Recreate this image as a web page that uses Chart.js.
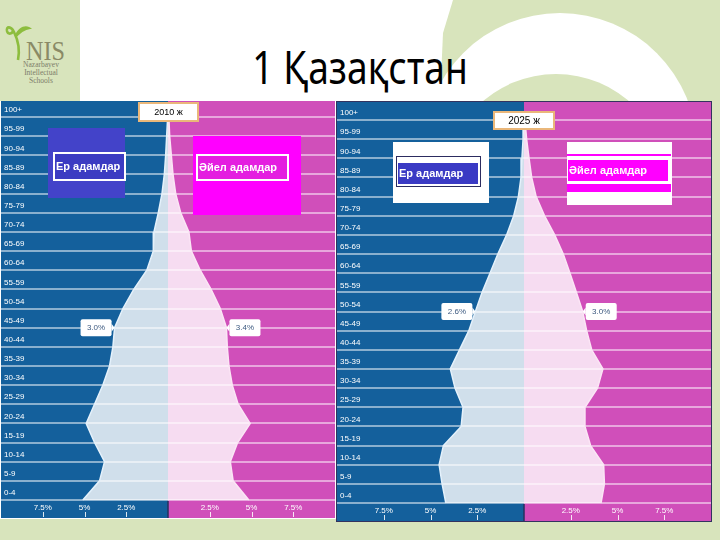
<!DOCTYPE html>
<html>
<head>
<meta charset="utf-8">
<script src="https://cdn.jsdelivr.net/npm/chart.js@4.4.0/dist/chart.umd.min.js"></script>
<style>
  html, body { margin: 0; padding: 0; }
  body { width: 720px; height: 540px; position: relative; overflow: hidden; background: #fff;
         font-family: "Liberation Sans", Arial, sans-serif; }
  .abs { position: absolute; }
  .green { background: #d8e4bc; }
  #topGreen { left: 0; top: 0; width: 720px; height: 101px;
              clip-path: polygon(453px 0, 720px 0, 720px 101px, 440px 101px, 443px 33px); }
  #ring { left: 423px; top: 13px; width: 274px; height: 274px; border-radius: 50%; background: #fff; }
  #dome { left: 444px; top: 74px; width: 224px; height: 224px; border-radius: 50%; }
  #title { left: 160px; top: 43px; width: 400px; text-align: center; white-space: nowrap;
           font: 46px/46px "Noto Sans", sans-serif; color: #000; transform: scaleX(0.81); }
  canvas { position: absolute; }
  #c2010 { left: 1px; top: 101px; }
  #c2025 { left: 337px; top: 102px; outline: 1px solid #33335f; }
  .legend { color: #fff; font: bold 11px "Liberation Sans", Arial, sans-serif; white-space: nowrap; }
  .year { background: #fff; border: 2px solid #eab77a; box-sizing: border-box; text-align: center;
          color: #000; font-family: "Liberation Sans", Arial, sans-serif; }
</style>
</head>
<body>
<div id="topGreen" class="abs green"></div>
<div id="ring" class="abs"></div>
<div id="dome" class="abs green"></div>
<div class="abs green" style="left:0;top:0;width:80px;height:101px"></div>
<div class="abs green" style="left:711px;top:0;width:9px;height:540px"></div>
<div class="abs green" style="left:0;top:519px;width:720px;height:21px"></div>

<svg class="abs" style="left:0;top:0" width="80" height="100">
  <path d="M18 60 C 20 50, 18 40, 14 32 C 11 26, 6 26, 7 31 C 8 35, 13 34, 13 30" stroke="#8dbd3e" stroke-width="2.6" fill="none"/>
  <path d="M15 35 C 19 26, 27 24, 32 29 C 27 29, 22 31, 16 38 Z" fill="#8dbd3e"/>
  <text x="26" y="60" font-family="Liberation Serif, serif" font-size="27" fill="#8a8a66" textLength="39" lengthAdjust="spacingAndGlyphs">NIS</text>
  <text x="41" y="67" font-family="Liberation Serif, serif" font-size="7.5" fill="#7d7d6a" text-anchor="middle">Nazarbayev</text>
  <text x="41" y="75" font-family="Liberation Serif, serif" font-size="7.5" fill="#7d7d6a" text-anchor="middle">Intellectual</text>
  <text x="41" y="83" font-family="Liberation Serif, serif" font-size="7.5" fill="#7d7d6a" text-anchor="middle">Schools</text>
</svg>

<div id="title" class="abs">1 Қазақстан</div>

<canvas id="c2010" width="334" height="417"></canvas>
<canvas id="c2025" width="374" height="419"></canvas>

<!-- 2010 legend boxes -->
<div class="abs" style="left:48px;top:128px;width:77px;height:70px;background:#4343c9"></div>
<div class="abs legend" style="left:53px;top:152px;width:68px;height:25px;line-height:25px;border:2px solid #fff;background:#3b3bc2;padding-left:1px">Ер адамдар</div>
<div class="abs" style="left:193px;top:136px;width:108px;height:79px;background:#ff00ff"></div>
<div class="abs legend" style="left:196px;top:154px;width:88px;height:23px;line-height:23px;border:2px solid #fff;background:#e41ee0;padding-left:1px">Әйел адамдар</div>
<div class="abs year" style="left:138px;top:102px;width:61px;height:20px;line-height:16px;font-size:9px">2010 ж</div>

<!-- 2025 legend boxes -->
<div class="abs" style="left:393px;top:142px;width:96px;height:61px;background:#fff"></div>
<div class="abs" style="left:396px;top:156px;width:83px;height:29px;border:1px solid #2c2c60"></div>
<div class="abs legend" style="left:398px;top:163px;width:79px;height:21px;line-height:21px;background:#3a3ac4;padding-left:1px">Ер адамдар</div>
<div class="abs" style="left:567px;top:142px;width:105px;height:63px;background:#fff"></div>
<div class="abs" style="left:567px;top:154px;width:104px;height:2px;background:#ff00ff"></div>
<div class="abs legend" style="left:568px;top:160px;width:99px;height:21px;line-height:21px;background:#ff00ff;padding-left:1px">Әйел адамдар</div>
<div class="abs" style="left:567px;top:184px;width:104px;height:8px;background:#ff00ff"></div>
<div class="abs year" style="left:493px;top:111px;width:62px;height:19px;line-height:15px;font-size:10px">2025 ж</div>

<script>
// age groups, top of the pyramid first
const ageGroups = ['100+', '95-99', '90-94', '85-89', '80-84', '75-79', '70-74', '65-69', '60-64', '55-59',
  '50-54', '45-49', '40-44', '35-39', '30-34', '25-29', '20-24', '15-19', '10-14', '5-9', '0-4'];

// share of population, %
const male2010 = [0.02, 0.08, 0.14, 0.22, 0.36, 0.58, 0.84, 0.88, 1.27, 2.05,
  2.7, 3.2, 3.3, 3.5, 3.9, 4.4, 4.9, 4.4, 3.8, 4.1, 5.1];
const female2010 = [0.05, 0.1, 0.2, 0.3, 0.46, 0.76, 1.25, 1.4, 1.93, 2.58,
  3.13, 3.5, 3.55, 3.65, 3.85, 4.2, 4.92, 4.17, 3.73, 3.9, 4.84];
const male2025 = [0.02, 0.05, 0.11, 0.16, 0.3, 0.55, 0.93, 1.4, 1.82, 2.24,
  2.6, 2.95, 3.45, 3.94, 3.69, 3.26, 3.36, 4.31, 4.54, 4.38, 4.18];
const female2025 = [0.05, 0.14, 0.27, 0.41, 0.65, 1.1, 1.64, 2.1, 2.46, 2.8,
  3.14, 3.35, 3.62, 4.22, 3.93, 3.26, 3.26, 3.56, 4.26, 4.3, 4.12];

// value callouts shown on each pyramid
const calloutAges = ['45-49', '50-54'];
const calloutText2010 = ['3.0%', '3.4%'];
const calloutText2025 = ['2.6%', '3.0%'];

const maleBg = '#14609c';
const femaleBg = '#d04fba';

function drawCallout(ctx, px, py, text, dir) {
  ctx.font = '8px "Liberation Sans", Arial, sans-serif';
  const w = Math.round(ctx.measureText(text).width) + 13, h = 17, tip = 3;
  const bx = dir < 0 ? px - tip - w : px + tip;
  const by = py - h / 2;
  ctx.fillStyle = '#fff';
  ctx.beginPath();
  ctx.roundRect(bx, by, w, h, 2);
  ctx.fill();
  ctx.beginPath();
  if (dir < 0) {
    ctx.moveTo(bx + w, py - 4); ctx.lineTo(bx + w + tip, py); ctx.lineTo(bx + w, py + 4);
  } else {
    ctx.moveTo(bx, py - 4); ctx.lineTo(bx - tip, py); ctx.lineTo(bx, py + 4);
  }
  ctx.fill();
  ctx.fillStyle = '#3d5a80';
  ctx.textAlign = 'center';
  ctx.textBaseline = 'middle';
  ctx.fillText(text, bx + w / 2, py + 0.5);
}

const pyramidDecor = {
  id: 'pyramidDecor',
  beforeDraw(chart) {
    const { ctx, width, height } = chart;
    const mid = chart.scales.x.getPixelForValue(0);
    ctx.save();
    ctx.fillStyle = maleBg;
    ctx.fillRect(0, 0, mid, height);
    ctx.fillStyle = femaleBg;
    ctx.fillRect(mid, 0, width - mid, height);
    ctx.restore();
  },
  afterDraw(chart, args, opts) {
    const { ctx, chartArea, height } = chart;
    const x = chart.scales.x, y = chart.scales.y;
    const mid = x.getPixelForValue(0);
    ctx.save();
    // divider in the axis strip
    ctx.strokeStyle = '#26305f';
    ctx.lineWidth = 1.5;
    ctx.beginPath();
    ctx.moveTo(mid, chartArea.bottom + 1);
    ctx.lineTo(mid, height);
    ctx.stroke();
    // little marks under the percent labels
    ctx.strokeStyle = 'rgba(255,255,255,0.85)';
    ctx.lineWidth = 1;
    x.ticks.forEach(t => {
      if (t.value === 0 || Math.abs(t.value) === 10) return;
      const px = Math.round(x.getPixelForValue(t.value)) + 0.5;
      ctx.beginPath();
      ctx.moveTo(px, height - 6);
      ctx.lineTo(px, height - 1);
      ctx.stroke();
    });
    // callouts
    const i = chart.data.labels.indexOf(opts.age);
    const py = y.getPixelForValue(i);
    chart.data.datasets.forEach((ds, k) => {
      drawCallout(ctx, x.getPixelForValue(ds.data[i]), py, opts.texts[k], k === 0 ? -1 : 1);
    });
    ctx.restore();
  }
};

function makePyramid(id, male, female, age, texts, topPad) {
  const ctx = document.getElementById(id).getContext('2d');
  return new Chart(ctx, {
    type: 'line',
    data: {
      labels: ageGroups,
      datasets: [
        {
          label: 'Ер адамдар',
          data: male.map(v => -v),
          fill: 'origin',
          backgroundColor: 'rgba(255,255,255,0.8)',
          borderColor: '#e4f1fb',
          borderWidth: 1.5,
          pointRadius: 0,
          tension: 0
        },
        {
          label: 'Әйел адамдар',
          data: female,
          fill: 'origin',
          backgroundColor: 'rgba(255,255,255,0.8)',
          borderColor: '#fbe5f5',
          borderWidth: 1.5,
          pointRadius: 0,
          tension: 0
        }
      ]
    },
    options: {
      indexAxis: 'y',
      responsive: false,
      animation: false,
      layout: { padding: { top: topPad } },
      plugins: {
        legend: { display: false },
        tooltip: { enabled: false },
        pyramidDecor: { age: age, texts: texts }
      },
      scales: {
        x: {
          type: 'linear',
          min: -10,
          max: 10,
          ticks: {
            stepSize: 2.5,
            color: '#fff',
            font: { size: 8, family: '"Liberation Sans", Arial, sans-serif' },
            padding: -5,
            maxRotation: 0,
            callback: v => (v === 0 || Math.abs(v) === 10) ? '' : Math.abs(v) + '%'
          },
          grid: { display: false },
          border: { display: false },
          afterFit: s => { s.height = 18; }
        },
        y: {
          type: 'category',
          offset: false,
          ticks: {
            mirror: true,
            autoSkip: false,
            color: '#fff',
            font: { size: 8, family: '"Liberation Sans", Arial, sans-serif' },
            padding: 3,
            labelOffset: -7
          },
          grid: { color: 'rgba(255,255,255,0.5)', lineWidth: 2, drawTicks: false },
          border: { display: false },
          afterFit: s => { s.width = 0; }
        }
      }
    },
    plugins: [pyramidDecor]
  });
}

makePyramid('c2010', male2010, female2010, calloutAges[0], calloutText2010, 16);
makePyramid('c2025', male2025, female2025, calloutAges[1], calloutText2025, 18);
</script>
</body>
</html>
